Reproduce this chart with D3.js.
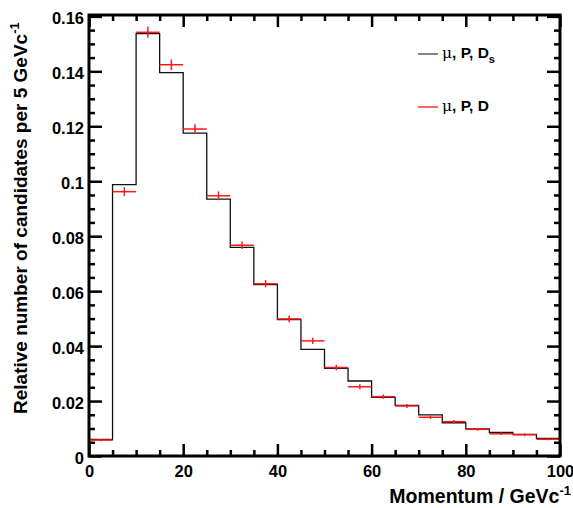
<!DOCTYPE html>
<html>
<head>
<meta charset="utf-8">
<script src="https://cdn.jsdelivr.net/npm/d3@7"></script>
<style>
  body { margin: 0; background: #fff; }
  svg { display: block; font-family: "Liberation Sans", Arial, sans-serif; }
</style>
</head>
<body>
<svg id="drawing_region"></svg>
<script>
// bin lower edges (GeV/c), 5 GeV/c wide
const binEdges = [0, 5, 10, 15, 20, 25, 30, 35, 40, 45, 50, 55, 60, 65, 70, 75, 80, 85, 90, 95];
const binWidth = 5;
// mu, P, Ds (black histogram)
const dsValues = [0.0060, 0.0988, 0.1537, 0.1395, 0.1175, 0.0935, 0.0759, 0.0624, 0.0496, 0.0388,
                  0.0319, 0.0273, 0.0213, 0.0184, 0.0150, 0.0121, 0.0099, 0.0086, 0.0079, 0.0064];
// mu, P, D (red points)
const dValues = [0.0058, 0.0962, 0.1542, 0.1424, 0.1190, 0.0947, 0.0767, 0.0627, 0.0499, 0.0419,
                 0.0322, 0.0252, 0.0216, 0.0182, 0.0141, 0.0125, 0.0097, 0.0081, 0.0077, 0.0061];
const dErrors = [0.0004, 0.0016, 0.0020, 0.0019, 0.0017, 0.0016, 0.0014, 0.0013, 0.0012, 0.0011,
                 0.0010, 0.0009, 0.0008, 0.0007, 0.0006, 0.0006, 0.0005, 0.0005, 0.0005, 0.0004];
const xTicks = [0, 20, 40, 60, 80, 100];
const yTicks = [0, 0.02, 0.04, 0.06, 0.08, 0.1, 0.12, 0.14, 0.16];

const config = {
    width: 573,
    height: 508,
    margin: {top: 15, right: 13, bottom: 52, left: 89}
};

const svg = d3.select('#drawing_region')
    .attr('width', config.width)
    .attr('height', config.height);

const inner_width = config.width - config.margin.left - config.margin.right;
const inner_height = config.height - config.margin.top - config.margin.bottom;

const chart = svg.append('g')
    .attr('transform', `translate(${config.margin.left}, ${config.margin.top})`);

const xscale = d3.scaleLinear().domain([0, 100]).range([0, inner_width]);
const yscale = d3.scaleLinear().domain([0, 0.1605]).range([inner_height, 0]);

const xminor = d3.range(0, 101, 5).filter(v => v % 20 !== 0);
const yminor = d3.range(0, 0.1601, 0.005).filter(v => Math.abs(v / 0.02 - Math.round(v / 0.02)) > 1e-6);

// histogram (black)
let pathStr = `M${xscale(0)},${yscale(0)}`;
binEdges.forEach((lo, i) => {
    pathStr += `V${yscale(dsValues[i])}H${xscale(lo + binWidth)}`;
});
pathStr += `V${yscale(0)}`;
chart.append('path')
    .attr('d', pathStr)
    .attr('fill', 'none')
    .attr('stroke', '#111')
    .attr('stroke-width', 1.3);

// red points with error bars
const pts = chart.append('g')
    .attr('stroke', '#ff1a1a')
    .attr('stroke-width', 1.5);
pts.selectAll('line.h')
    .data(binEdges)
    .join('line')
    .attr('class', 'h')
    .attr('x1', d => xscale(d))
    .attr('x2', d => xscale(d + binWidth))
    .attr('y1', (d, i) => yscale(dValues[i]))
    .attr('y2', (d, i) => yscale(dValues[i]));
pts.selectAll('line.v')
    .data(binEdges)
    .join('line')
    .attr('class', 'v')
    .attr('x1', d => xscale(d + binWidth / 2))
    .attr('x2', d => xscale(d + binWidth / 2))
    .attr('y1', (d, i) => yscale(dValues[i] - dErrors[i]))
    .attr('y2', (d, i) => yscale(dValues[i] + dErrors[i]));

// axes (ROOT style, ticks on all four sides)
function styleAxis(g) {
    g.select('.domain').remove();
    g.selectAll('.tick line').attr('stroke', '#000').attr('stroke-width', 2.5);
}

const xaxis_group = chart.append('g')
    .attr('transform', `translate(0, ${inner_height})`)
    .call(d3.axisBottom(xscale).tickValues(xTicks).tickSize(-12).tickPadding(20).tickFormat(d3.format('d')))
    .call(styleAxis);
xaxis_group.selectAll('.tick text')
    .attr('font-size', '16.5px')
    .attr('font-weight', 'bold')
    .attr('font-family', '"Liberation Sans", Arial, sans-serif')
    .attr('fill', '#000')
    .attr('dy', '0.71em')
    .attr('y', 9);

chart.append('g')
    .attr('transform', `translate(0, ${inner_height})`)
    .call(d3.axisBottom(xscale).tickValues(xminor).tickSize(-6).tickFormat(''))
    .call(styleAxis);
chart.append('g')
    .call(d3.axisTop(xscale).tickValues(xTicks).tickSize(-12).tickFormat(''))
    .call(styleAxis);
chart.append('g')
    .call(d3.axisTop(xscale).tickValues(xminor).tickSize(-6).tickFormat(''))
    .call(styleAxis);

const yaxis_group = chart.append('g')
    .call(d3.axisLeft(yscale).tickValues(yTicks).tickSize(-13).tickFormat(d => d === 0 ? '0' : d3.format('')(+d.toFixed(2))))
    .call(styleAxis);
yaxis_group.selectAll('.tick text')
    .attr('font-size', '16.5px')
    .attr('font-weight', 'bold')
    .attr('font-family', '"Liberation Sans", Arial, sans-serif')
    .attr('fill', '#000')
    .attr('x', -5)
    .attr('dy', '0.45em');

chart.append('g')
    .call(d3.axisLeft(yscale).tickValues(yminor).tickSize(-6).tickFormat(''))
    .call(styleAxis);
chart.append('g')
    .attr('transform', `translate(${inner_width}, 0)`)
    .call(d3.axisRight(yscale).tickValues(yTicks).tickSize(-13).tickFormat(''))
    .call(styleAxis);
chart.append('g')
    .attr('transform', `translate(${inner_width}, 0)`)
    .call(d3.axisRight(yscale).tickValues(yminor).tickSize(-6).tickFormat(''))
    .call(styleAxis);

// frame
chart.append('rect')
    .attr('x', 0)
    .attr('y', 0)
    .attr('width', inner_width)
    .attr('height', inner_height)
    .attr('fill', 'none')
    .attr('stroke', '#000')
    .attr('stroke-width', 3);

// axis titles
const xlabel = svg.append('text')
    .attr('x', 571)
    .attr('y', 503)
    .attr('text-anchor', 'end')
    .attr('font-size', '19.5px')
    .attr('font-weight', 'bold')
    .attr('fill', '#000');
xlabel.append('tspan').text('Momentum / GeVc');
xlabel.append('tspan').attr('dy', -8).attr('font-size', '13px').text('-1');

const ylabel = svg.append('text')
    .attr('transform', 'translate(27, 414) rotate(-90)')
    .attr('text-anchor', 'start')
    .attr('font-size', '19px')
    .attr('font-weight', 'bold')
    .attr('fill', '#000');
ylabel.append('tspan').text('Relative number of candidates per 5 GeVc');
ylabel.append('tspan').attr('dy', -8).attr('font-size', '13px').text('-1');

// legend
const legend = svg.append('g');
const legendItems = [
    {color: '#333', y: 54, sub: 's'},
    {color: '#ff0000', y: 107, sub: ''}
];
legendItems.forEach(it => {
    legend.append('line')
        .attr('x1', 418).attr('x2', 438)
        .attr('y1', it.y).attr('y2', it.y)
        .attr('stroke', it.color)
        .attr('stroke-width', 1.2);
    const t = legend.append('text')
        .attr('x', 442)
        .attr('y', it.y + 4)
        .attr('font-size', '15.5px')
        .attr('fill', '#000');
    t.append('tspan').attr('font-family', '"DejaVu Serif", serif').text('\u03bc');
    t.append('tspan').attr('font-weight', 'bold').text(', P, D');
    if (it.sub) {
        t.append('tspan').attr('font-weight', 'bold').attr('font-size', '11px').attr('dy', 5).text(it.sub);
    }
});
</script>
</body>
</html>
